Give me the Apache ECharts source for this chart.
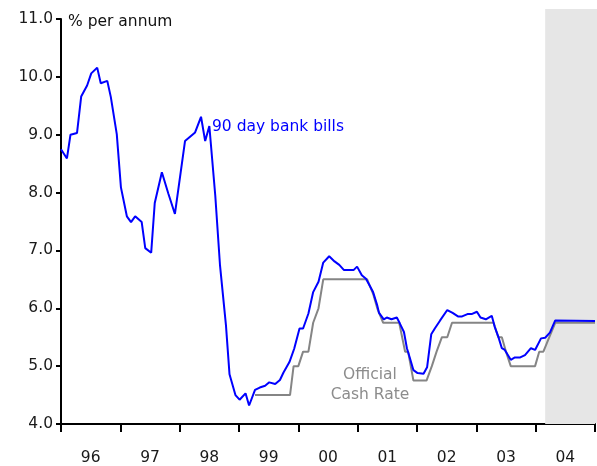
<!DOCTYPE html>
<html><head><meta charset="utf-8">
<script src="https://cdn.jsdelivr.net/npm/echarts@6/dist/echarts.min.js"></script>
<style>html,body{margin:0;padding:0;background:#fff}#c{width:597px;height:466px}</style>
</head><body><div id="c"></div>
<script>
const yearLabels = ['96','97','98','99','00','01','02','03','04'];
const billDates = [1996.00,1996.10,1996.16,1996.27,1996.34,1996.44,1996.51,1996.61,1996.67,1996.78,1996.84,1996.94,
  1997.01,1997.11,1997.18,1997.25,1997.36,1997.42,1997.52,1997.58,1997.70,1997.81,1997.92,
  1998.09,1998.26,1998.36,1998.43,1998.50,1998.60,1998.68,1998.78,1998.84,1998.94,
  1999.01,1999.11,1999.17,1999.27,1999.35,1999.44,1999.51,1999.61,1999.69,1999.75,1999.85,1999.93,
  2000.02,2000.08,2000.17,2000.25,2000.34,2000.42,2000.52,2000.61,2000.69,2000.77,2000.85,2000.93,2000.99,
  2001.07,2001.14,2001.26,2001.33,2001.36,2001.44,2001.49,2001.57,2001.66,2001.71,2001.78,2001.83,2001.88,2001.94,
  2002.01,2002.11,2002.17,2002.24,2002.30,2002.39,2002.51,2002.60,2002.69,2002.76,2002.85,2002.92,
  2003.01,2003.07,2003.16,2003.26,2003.31,2003.37,2003.43,2003.48,2003.58,2003.65,2003.74,2003.82,2003.92,2003.99,
  2004.09,2004.16,2004.24,2004.33,2005.00];
const billRates = [8.75,8.59,9.00,9.03,9.66,9.85,10.06,10.16,9.89,9.93,9.65,9.01,
  8.09,7.59,7.49,7.59,7.49,7.04,6.96,7.82,8.35,7.98,7.63,
  8.89,9.04,9.31,8.89,9.15,7.95,6.74,5.71,4.86,4.50,
  4.42,4.53,4.32,4.59,4.63,4.66,4.72,4.69,4.76,4.89,5.07,5.30,
  5.65,5.65,5.91,6.28,6.46,6.79,6.90,6.81,6.75,6.66,6.66,6.66,6.72,
  6.57,6.51,6.28,6.05,5.92,5.81,5.84,5.81,5.84,5.74,5.59,5.31,5.14,4.93,
  4.88,4.87,4.98,5.55,5.65,5.79,5.97,5.92,5.86,5.86,5.90,5.90,
  5.94,5.84,5.81,5.87,5.68,5.51,5.31,5.28,5.11,5.15,5.15,5.19,5.31,5.28,
  5.48,5.49,5.58,5.79,5.78];
const cashDates = [1999.27,1999.86,1999.92,2000.00,2000.08,2000.17,2000.25,2000.34,2000.42,
  2001.16,2001.26,2001.33,2001.43,2001.70,2001.80,2001.85,2001.94,
  2002.16,2002.25,2002.33,2002.42,2002.51,2002.59,
  2003.29,2003.37,2003.43,2003.50,2003.58,2003.99,
  2004.06,2004.13,2004.23,2004.33,2005.00];
const cashRates = [4.50,4.50,5.00,5.00,5.25,5.25,5.75,6.00,6.50,
  6.50,6.25,6.00,5.75,5.75,5.25,5.25,4.75,
  4.75,5.00,5.25,5.50,5.50,5.75,
  5.75,5.50,5.50,5.25,5.00,5.00,
  5.25,5.25,5.50,5.75,5.75];
const shadeStart = 2004.16;
const xMin = 1996, xMax = 2005;
const yMin = 4, yMax = 11, yStep = 1;

const FONT = 'DejaVu Sans';
const FS = 15.5;
const chart = echarts.init(document.getElementById('c'), null, {renderer:'canvas'});
const zip = (a,b) => a.map((v,i)=>[v,b[i]]);
const option = {
  animation:false,
  backgroundColor:'#fff',
  grid:{left:61,right:2,top:19,bottom:40,containLabel:false},
  xAxis:[
    {type:'value',min:xMin,max:xMax,show:false},
    {type:'category',data:yearLabels,position:'bottom',boundaryGap:true,
     axisLine:{show:true,lineStyle:{color:'#000',width:2}},
     axisTick:{show:true,length:8,interval:0,lineStyle:{color:'#000',width:2}},
     axisLabel:{fontSize:FS,fontFamily:FONT,color:'#1a1a1a',margin:26,interval:0},
     splitLine:{show:false}}
  ],
  yAxis:{type:'value',min:yMin,max:yMax,interval:yStep,
    axisLine:{show:true,lineStyle:{color:'#000',width:2}},
    axisTick:{show:true,length:5,lineStyle:{color:'#000',width:2}},
    axisLabel:{formatter:v=>v.toFixed(1),fontSize:FS,fontFamily:FONT,color:'#1a1a1a',margin:8},
    splitLine:{show:false}},
  series:[
    {type:'line',name:'Official Cash Rate',xAxisIndex:0,data:zip(cashDates,cashRates),showSymbol:false,
     lineStyle:{color:'#858585',width:2},z:3,
     markArea:{silent:true,itemStyle:{color:'#e6e6e6'},data:[[{xAxis:shadeStart},{xAxis:xMax}]],z:1}},
    {type:'line',name:'90 day bank bills',xAxisIndex:0,data:zip(billDates,billRates),showSymbol:false,
     lineStyle:{color:'#0000ff',width:2},z:4}
  ]
};
chart.setOption(option);
const sx = chart.convertToPixel({xAxisIndex:0}, shadeStart);
const ex = chart.convertToPixel({xAxisIndex:0}, xMax);
const ty = chart.convertToPixel({yAxisIndex:0}, yMax);
const font = FS + 'px "DejaVu Sans"';
chart.setOption({graphic:[
  {type:'rect',silent:true,shape:{x:sx,y:9,width:(ex-sx)+3,height:ty-9},style:{fill:'#e6e6e6'}},
  {type:'rect',silent:true,shape:{x:ex,y:ty,width:3,height:chart.convertToPixel({yAxisIndex:0}, yMin)-ty-1},style:{fill:'#e6e6e6'}},
  {type:'text',left:68,top:14,style:{text:'% per annum',fill:'#111',font:font}},
  {type:'text',left:212,top:119,style:{text:'90 day bank bills',fill:'#0000ff',font:font}},
  {type:'text',x:370,y:375,style:{text:'Official',fill:'#8c8c8c',font:font,align:'center',verticalAlign:'middle'}},
  {type:'text',x:370,y:395,style:{text:'Cash Rate',fill:'#8c8c8c',font:font,align:'center',verticalAlign:'middle'}}
]});
</script></body></html>
